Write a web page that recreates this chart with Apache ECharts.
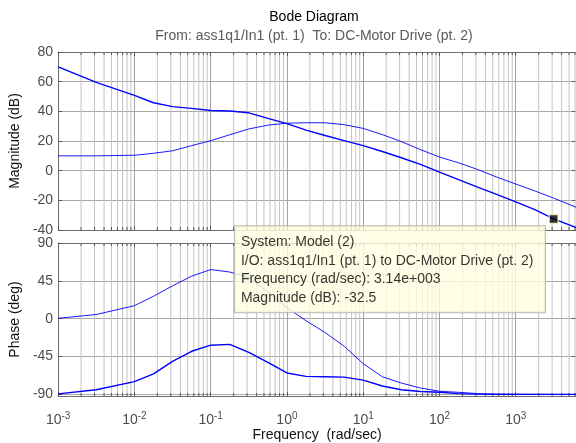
<!DOCTYPE html>
<html>
<head>
<meta charset="utf-8">
<script src="https://cdn.jsdelivr.net/npm/echarts@6.0.0/dist/echarts.min.js"></script>
<style>
  html, body { margin: 0; padding: 0; background: #ffffff; }
  #chart { width: 576px; height: 443px; }
</style>
</head>
<body>
<div id="chart"></div>
<script>
// Bode diagram of two models: magnitude (dB) and phase (deg) against frequency (rad/sec)

// Sample frequencies (rad/sec)
const freq = [0.001, 0.00316, 0.01, 0.0178, 0.0316, 0.0562, 0.1, 0.178, 0.316, 0.562,
              1, 1.78, 3.16, 5.62, 10, 17.8, 31.6, 56.2, 100, 178, 316, 562,
              1000, 1780, 3140, 6280];

// Model (2): magnitude and phase
const magA   = [70, 59.5, 50.8, 45.8, 43.2, 42.0, 40.6, 40.2, 39.0, 35.3,
                31.7, 27.3, 23.7, 20.3, 16.9, 12.9, 8.7, 4.3, -1.0, -6.1, -11.1, -16.0,
                -21.0, -26.3, -32.5, -38.5];
const phaseA = [-89.3, -84.5, -74.8, -65.5, -50.7, -38.7, -31.5, -30.5, -40, -52,
                -64.5, -68.5, -69, -69.5, -73, -80, -84.5, -86.5, -87.5, -89, -89.7, -90,
                -90, -90, -90, -90];

// Model (1): magnitude and phase
const magB   = [10, 10, 10.4, 11.7, 13.4, 16.9, 20.2, 24.2, 28.1, 30.7,
                32.0, 32.3, 32.3, 31.0, 28.5, 24.3, 19.6, 14.2, 9.2, 5.3, 0.8, -4.3,
                -9.0, -13.7, -18.5, -24.8];
const phaseB = [0.5, 5, 15.5, 26.7, 39, 50.6, 58.4, 55.5, 49, 32,
                13, -2.4, -16.4, -32.6, -53.5, -69, -76.5, -82.4, -86.2, -87.5, -89, -89.6,
                -89.8, -89.9, -90, -90];

// Axis ticks
const decadeExponents = [-3, -2, -1, 0, 1, 2, 3];
const magTicks = [-40, -20, 0, 20, 40, 60, 80];
const phaseTicks = [-90, -45, 0, 45, 90];

// Data cursor on Model (2)
const markerFreq = 3140;
const markerMag = -32.5;

const titleText = 'Bode Diagram';
const subText = 'From: ass1q1/In1 (pt. 1)  To: DC-Motor Drive (pt. 2)';
const tipSystem = 'Model (2)';
const tipIO = 'ass1q1/In1 (pt. 1) to DC-Motor Drive (pt. 2)';

// ---- styling / layout ----
const FONT = '"Liberation Sans", Arial, Helvetica, sans-serif';
const frameColor = '#6e6e6e';
const tickColor = '#555555';
const labelColor = '#4d4d4d';
const majorGrid = '#a0a0a0';
const minorGrid = '#c4c4c4';
const hGrid = '#a8a8a8';
const curveColor = '#0000ff';

const logMin = -3, logMax = 3.79;
const magMin = magTicks[0], magMax = magTicks[magTicks.length - 1];
const phaseMin = -92, phaseMax = 90;

// log10 positions of the 2..9 lines inside every decade
const minorPos = [];
decadeExponents.forEach(n => {
  for (let k = 2; k <= 9; k++) {
    const v = n + Math.log10(k);
    if (v < logMax) minorPos.push(v);
  }
});

const toXY = ys => freq.map((f, i) => [Math.log10(f), ys[i]]);

function fmtExp(v) {
  const e = Math.floor(Math.log10(Math.abs(v)));
  const m = (v / Math.pow(10, e)).toFixed(2);
  const s = e < 0 ? '-' : '+';
  return m + 'e' + s + String(Math.abs(e)).padStart(3, '0');
}

function xAxisFor(gridIndex, position, withLabels) {
  const ax = {
    type: 'value', gridIndex, position, min: logMin, max: logMax, interval: 1,
    axisLine: { show: true, onZero: false, lineStyle: { color: frameColor, width: 1 } },
    axisTick: { show: true, inside: true, length: 4, lineStyle: { color: tickColor } },
    axisLabel: { show: false },
    splitLine: { show: position === 'bottom', lineStyle: { color: majorGrid, width: 1 } }
  };
  if (withLabels) {
    ax.axisLabel = {
      show: true, margin: 15, showMaxLabel: false,
      formatter: v => {
        const r = Math.round(v);
        if (Math.abs(v - r) > 1e-6) return '';
        return '{b|10}{e|' + r + '}';
      },
      rich: {
        b: { fontSize: 14, fontFamily: FONT, color: labelColor, lineHeight: 16, padding: [6, 0, 0, 0], verticalAlign: 'bottom' },
        e: { fontSize: 10, fontFamily: FONT, color: labelColor, lineHeight: 12, verticalAlign: 'top' }
      }
    };
    ax.name = 'Frequency  (rad/sec)';
    ax.nameLocation = 'middle';
    ax.nameGap = 29;
    ax.nameTextStyle = { fontSize: 14, fontFamily: FONT, color: '#111' };
  }
  return ax;
}

function yAxisFor(gridIndex, position, min, max, ticks, name) {
  const ax = {
    type: 'value', gridIndex, position, min, max,
    axisLine: { show: true, onZero: false, lineStyle: { color: frameColor, width: 1 } },
    axisTick: { show: true, inside: true, length: 4, lineStyle: { color: tickColor }, customValues: ticks },
    axisLabel: { show: position === 'left', margin: 5, fontSize: 14, fontFamily: FONT, color: labelColor, customValues: ticks },
    splitLine: { show: position === 'left', lineStyle: { color: hGrid, width: 1 } }
  };
  if (name) {
    ax.name = name;
    ax.nameLocation = 'middle';
    ax.nameGap = 30;
    ax.nameTextStyle = { fontSize: 14, fontFamily: FONT, color: '#111' };
  }
  return ax;
}

// minor vertical grid lines with short inward ticks at both frame edges
function minorSeries(xIdx, yIdx, yMin, yMax) {
  return {
    type: 'custom', xAxisIndex: xIdx, yAxisIndex: yIdx, z: 1, silent: true,
    data: minorPos.map(v => [v, yMin]),
    encode: { x: 0, y: 1 },
    renderItem: (params, api) => {
      const x = api.value(0);
      const t = api.coord([x, yMax]);
      const b = api.coord([x, yMin]);
      return {
        type: 'group',
        children: [
          { type: 'line', shape: { x1: t[0], y1: t[1], x2: b[0], y2: b[1] }, style: { stroke: minorGrid, lineWidth: 1 } },
          { type: 'line', shape: { x1: t[0], y1: t[1], x2: t[0], y2: t[1] + 3 }, style: { stroke: tickColor, lineWidth: 1 } },
          { type: 'line', shape: { x1: b[0], y1: b[1] - 3, x2: b[0], y2: b[1] }, style: { stroke: tickColor, lineWidth: 1 } }
        ]
      };
    }
  };
}

function curve(xIdx, yIdx, ys, width) {
  return {
    type: 'line', xAxisIndex: xIdx, yAxisIndex: yIdx, data: toXY(ys),
    symbol: 'none', smooth: false, z: 3, silent: true,
    lineStyle: { color: curveColor, width }
  };
}

const tipLines = [
  'System: ' + tipSystem,
  'I/O: ' + tipIO,
  'Frequency (rad/sec): ' + fmtExp(markerFreq),
  'Magnitude (dB): ' + markerMag
];

const option = {
  animation: false,
  backgroundColor: '#ffffff',
  grid: [
    { left: 53, right: 0, top: 52, height: 178 },
    { left: 53, right: 0, top: 243, height: 156 }
  ],
  xAxis: [
    xAxisFor(0, 'bottom', false),
    xAxisFor(0, 'top', false),
    xAxisFor(1, 'bottom', true),
    xAxisFor(1, 'top', false)
  ],
  yAxis: [
    yAxisFor(0, 'left', magMin, magMax, magTicks, 'Magnitude (dB)'),
    yAxisFor(0, 'right', magMin, magMax, magTicks, null),
    yAxisFor(1, 'left', phaseMin, phaseMax, phaseTicks, 'Phase (deg)'),
    yAxisFor(1, 'right', phaseMin, phaseMax, phaseTicks, null)
  ],
  graphic: [
    { type: 'text', x: 314, y: 17, silent: true,
      style: { text: titleText, align: 'center', verticalAlign: 'middle', fontSize: 14, fontFamily: FONT, fill: '#000' } },
    { type: 'text', x: 314, y: 36, silent: true,
      style: { text: subText, align: 'center', verticalAlign: 'middle', fontSize: 14, fontFamily: FONT, fill: '#5a5a5a' } }
  ],
  series: [
    minorSeries(0, 0, magMin, magMax),
    minorSeries(2, 2, phaseMin, phaseMax),
    curve(0, 0, magB, 0.9),
    curve(0, 0, magA, 1.4),
    curve(2, 2, phaseB, 0.9),
    curve(2, 2, phaseA, 1.4),
    {
      // data cursor: marker plus its datatip, on its own layer above everything
      type: 'scatter', xAxisIndex: 0, yAxisIndex: 0, z: 50, zlevel: 1, silent: true,
      data: [[Math.log10(markerFreq), markerMag]],
      symbol: 'rect', symbolSize: 9,
      itemStyle: { color: '#000000', borderColor: '#fffbd0', borderWidth: 1.5 },
      label: {
        show: true, position: [-313.5, 12.5], align: 'left', verticalAlign: 'top',
        formatter: () => tipLines.join('\n'),
        fontSize: 14, fontFamily: FONT, color: '#000', lineHeight: 18.5,
        backgroundColor: '#ffffe1', borderColor: '#a9a9a0', borderWidth: 1,
        padding: [7, 6, 5, 6], width: 298
      }
    }
  ]
};

const chart = echarts.init(document.getElementById('chart'), null, { renderer: 'canvas' });
chart.setOption(option);
</script>
</body>
</html>
